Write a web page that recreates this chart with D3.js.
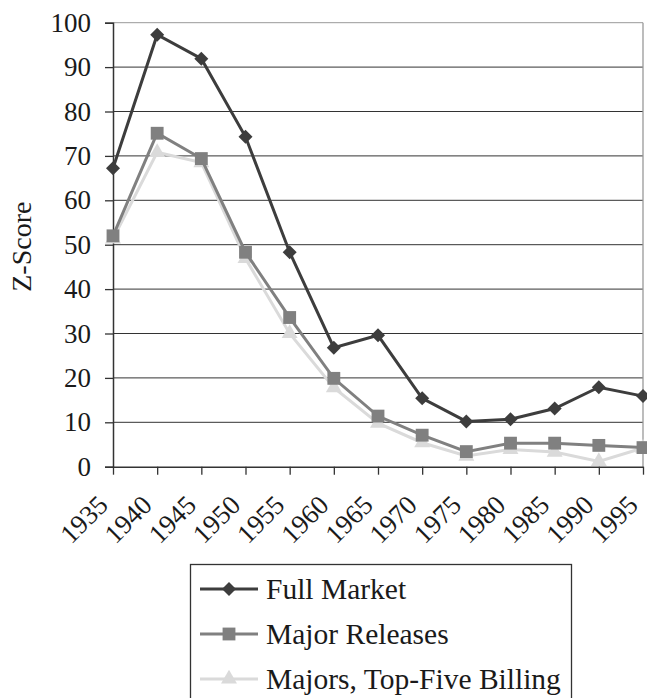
<!DOCTYPE html>
<html>
<head>
<meta charset="utf-8">
<script src="https://cdn.jsdelivr.net/npm/d3@7"></script>
<style>
  html, body { margin: 0; padding: 0; background: #fff; }
  svg { display: block; }
  text { font-family: "Liberation Serif", "Times New Roman", serif; fill: #1a1a1a; }
</style>
</head>
<body>
<svg id="chart" width="647" height="698"></svg>
<script>
// Years on the category axis
const years = [1935, 1940, 1945, 1950, 1955, 1960, 1965, 1970, 1975, 1980, 1985, 1990, 1995];

// Z-score series
const fullMarket    = [67.2, 97.3, 91.9, 74.3, 48.3, 26.8, 29.6, 15.4, 10.2, 10.7, 13.1, 17.9, 15.9];
const majorReleases = [52.0, 75.1, 69.4, 48.3, 33.6, 19.9, 11.4, 7.1, 3.4, 5.3, 5.3, 4.8, 4.3];
const topFive       = [51.3, 70.8, 68.5, 46.9, 30.0, 17.8, 9.8, 5.4, 2.4, 3.9, 3.3, 1.2, 4.2];

const yTicks = [0, 10, 20, 30, 40, 50, 60, 70, 80, 90, 100];
const seriesNames = ["Full Market", "Major Releases", "Majors, Top-Five Billing"];

const svg = d3.select("#chart");
const plotLeft = 113, plotRight = 643, plotTop = 22.7, plotBottom = 466.7;

const x = d3.scalePoint().domain(years).range([plotLeft, plotRight]);
const y = d3.scaleLinear().domain([0, 100]).range([plotBottom, plotTop]);

// horizontal gridlines
svg.append("g")
  .selectAll("line")
  .data(yTicks.filter(d => d > 0))
  .join("line")
  .attr("x1", plotLeft).attr("x2", plotRight)
  .attr("y1", d => y(d)).attr("y2", d => y(d))
  .attr("stroke", d => d === 100 ? "#999" : "#333")
  .attr("stroke-width", 1);

// right border of the plot area
svg.append("line")
  .attr("x1", plotRight).attr("x2", plotRight)
  .attr("y1", plotTop).attr("y2", plotBottom)
  .attr("stroke", "#999").attr("stroke-width", 1.3);

// y axis
const yAxis = svg.append("g")
  .attr("transform", `translate(${plotLeft},0)`)
  .call(d3.axisLeft(y).tickValues(yTicks).tickSize(8).tickPadding(14).tickFormat(d3.format("d")));
yAxis.select(".domain").attr("stroke", "#333").attr("stroke-width", 1.5);
yAxis.selectAll(".tick line").attr("stroke", "#333").attr("stroke-width", 1.3);
yAxis.selectAll(".tick text")
  .style("font-family", "'Liberation Serif', 'Times New Roman', serif")
  .style("font-size", "27px")
  .attr("fill", "#1a1a1a");

// x axis with labels slanted at 45 degrees
const xAxis = svg.append("g")
  .attr("transform", `translate(0,${plotBottom})`)
  .call(d3.axisBottom(x).tickSize(8).tickSizeOuter(0).tickFormat(d3.format("d")));
xAxis.select(".domain").attr("stroke", "#333").attr("stroke-width", 1.5);
xAxis.selectAll(".tick line").attr("stroke", "#333").attr("stroke-width", 1.3);
xAxis.selectAll(".tick text")
  .style("font-family", "'Liberation Serif', 'Times New Roman', serif")
  .style("font-size", "27px")
  .style("text-anchor", "end")
  .attr("fill", "#1a1a1a")
  .attr("y", 0).attr("dy", 0)
  .attr("transform", "translate(-4,40) rotate(-45)");

// y axis title
svg.append("text")
  .attr("transform", `translate(31,${(plotTop + plotBottom) / 2 + 2}) rotate(-90)`)
  .attr("text-anchor", "middle")
  .style("font-size", "28px")
  .text("Z-Score");

// series styling
const styles = [
  { color: "#3d3d3d", shape: d3.symbolDiamond2, size: 125, values: fullMarket },
  { color: "#808080", shape: d3.symbolSquare,  size: 165, values: majorReleases },
  { color: "#dadada", shape: d3.symbolTriangle, size: 110, values: topFive }
];

const line = d3.line().x((d, i) => x(years[i])).y(d => y(d));

// draw lightest first so the darker lines sit on top
[2, 1, 0].forEach(k => {
  const s = styles[k];
  const g = svg.append("g");
  g.append("path")
    .datum(s.values)
    .attr("d", line)
    .attr("fill", "none")
    .attr("stroke", s.color)
    .attr("stroke-width", 3);
  g.selectAll("path.m")
    .data(s.values)
    .join("path")
    .attr("class", "m")
    .attr("d", d3.symbol().type(s.shape).size(s.size))
    .attr("transform", (d, i) => `translate(${x(years[i])},${y(d)})`)
    .attr("fill", s.color);
});

// legend
const lg = svg.append("g");
lg.append("rect")
  .attr("x", 190.5).attr("y", 564.5)
  .attr("width", 381).attr("height", 200)
  .attr("fill", "#fff")
  .attr("stroke", "#333").attr("stroke-width", 1.3);

seriesNames.forEach((name, i) => {
  const cy = 589 + i * 45;
  const s = styles[i];
  lg.append("line")
    .attr("x1", 200).attr("x2", 258)
    .attr("y1", cy).attr("y2", cy)
    .attr("stroke", s.color).attr("stroke-width", 3);
  lg.append("path")
    .attr("d", d3.symbol().type(s.shape).size(s.size)())
    .attr("transform", `translate(229,${cy})`)
    .attr("fill", s.color);
  lg.append("text")
    .attr("x", 266)
    .attr("y", cy)
    .attr("dy", "0.35em")
    .style("font-size", "29.5px")
    .text(name);
});
</script>
</body>
</html>
